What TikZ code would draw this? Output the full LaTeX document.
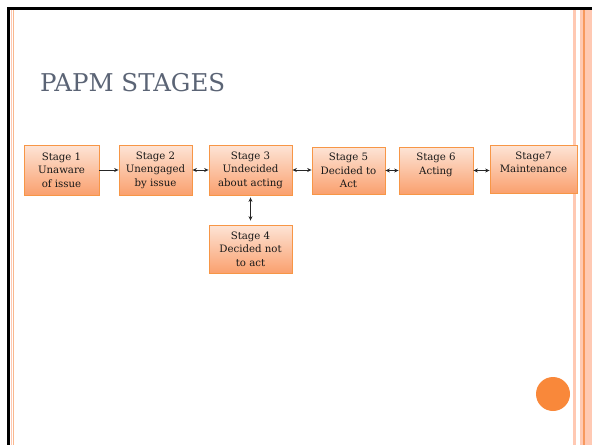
\documentclass[tikz,border=0pt]{standalone}
\usepackage{fontspec}
\setmainfont{DejaVu Serif}
\usepackage{tikz}
\usetikzlibrary{arrows.meta,shadows}
\definecolor{stageline}{HTML}{F79646}
\definecolor{stagetop}{HTML}{FDE4D6}
\definecolor{stagebot}{HTML}{FAA06E}
\definecolor{titlegray}{HTML}{5B6475}
\definecolor{stripepink}{HTML}{FFC9B3}
\definecolor{stripeorange}{HTML}{F7995E}
\definecolor{dotorange}{HTML}{F9883A}
\begin{document}
\begin{tikzpicture}[x=1pt,y=-1pt,
    stagebox/.style={draw=stageline, line width=0.8pt, top color=stagetop, bottom color=stagebot,
      align=center, inner sep=0pt, text=black!90, font=\fontsize{10.2}{13.6}\selectfont,
      drop shadow={shadow xshift=0.4pt, shadow yshift=-1.4pt, opacity=0.25}},
    link/.style={line width=1pt, draw=black!85},
    >={Stealth[length=4.5pt,width=4pt]}]
    \useasboundingbox (0,0) rectangle (592,445);

    % slide frame
    \fill[black] (7,7) rectangle (592,10);
    \fill[black] (7,7) rectangle (10,445);
    \draw[stripepink, line width=1.2pt] (11.2,10) -- (11.2,445);
    \draw[stripeorange!70, line width=0.9pt] (13.3,10) -- (13.3,445);
    \fill[stripepink] (573,10) rectangle (576,445);
    \fill[stripepink] (580,10) rectangle (592,445);
    \draw[stripeorange, line width=1.2pt] (584,10) -- (584,445);

    \node[anchor=base west, text=titlegray, font=\fontsize{24.5}{29}\selectfont, inner sep=0pt]
        (title) at (40,91) {PAPM STAGES};

    % stages
    \node[stagebox, minimum width=75pt, minimum height=50pt] (s1) at (61.5,170) {Stage 1\\Unaware\\of issue};
    \node[stagebox, minimum width=73pt, minimum height=50pt] (s2) at (155.5,170) {Stage 2\\Unengaged\\by issue};
    \node[stagebox, minimum width=83pt, minimum height=50pt] (s3) at (250.5,170) {Stage 3\\Undecided\\about acting};
    \node[stagebox, minimum width=83pt, minimum height=48pt] (s4) at (250.5,249) {Stage 4\\Decided not\\to act};
    \node[stagebox, minimum width=73pt, minimum height=47pt] (s5) at (348.5,170.5) {Stage 5\\Decided to\\Act};
    \node[stagebox, minimum width=74pt, minimum height=47pt] (s6) at (436,170.5) {Stage 6\\Acting\\\mbox{}};
    \node[stagebox, minimum width=87pt, minimum height=48pt] (s7) at (533.5,169) {Stage7\\Maintenance\\\mbox{}};

    \draw[link, ->] (s1.east) -- (s1.east -| s2.west);
    \draw[link, <->] (s2.east) -- (s2.east -| s3.west);
    \draw[link, <->] (s3.east) -- (s3.east -| s5.west);
    \draw[link, <->] (s5.east) -- (s5.east -| s6.west);
    \draw[link, <->] (s6.east) -- (s6.east -| s7.west);
    \draw[link, <->, shorten <=2pt, shorten >=4pt] (s3.south) -- (s4.north);

    \fill[dotorange] (553,394) circle (17);
\end{tikzpicture}
\end{document}
